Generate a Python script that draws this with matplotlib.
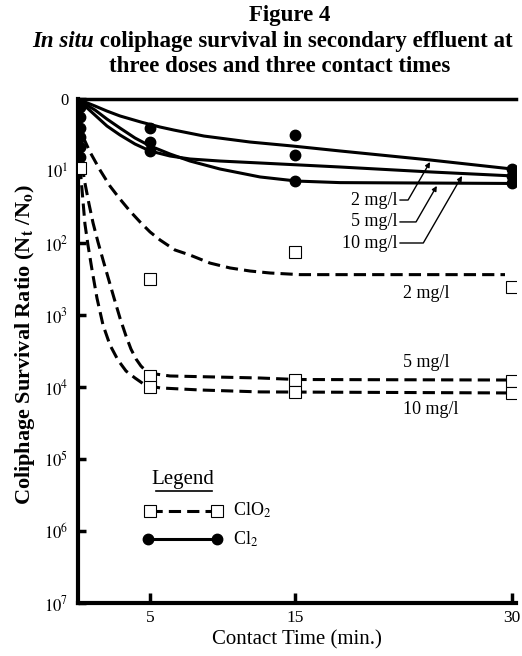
import matplotlib.pyplot as plt

plt.rcParams['font.family'] = ['Liberation Serif', 'DejaVu Serif']
plt.rcParams['mathtext.fontset'] = 'stix'

times = [5, 15, 30]
cl2_2 = [2.53, 3.16, 9.4]
cl2_5 = [3.96, 13.8, 14.7]
cl2_10 = [5.27, 6.0, 11.7]
clo2_2 = [316, 133, 407]
clo2_5 = [7050, 7990, 8250]
clo2_10 = [10000, 11700, 12100]

# points stacked at the start of contact
t_start = [0.15, 0.15, 0.15, 0.15, 0.15, 0.15, 0.15]
cl2_start = [1.3, 1.8, 2.5, 3.4, 4.6, 6.3, 8.5]
clo2_start_t = [0.12]
clo2_start = [9.0]

# fitted curves
cl2_2_fit_t = [0, 0.48, 1.17, 2.0, 2.9, 4.35, 5.67, 6.63, 8.71, 11.89, 14.79, 18.11, 24.33, 30]
cl2_2_fit = [1, 1.10, 1.25, 1.47, 1.72, 2.09, 2.45, 2.70, 3.27, 3.96, 4.49, 5.27, 7.03, 9.38]
cl2_5_fit_t = [0, 0.48, 1.17, 2.0, 2.9, 3.94, 4.98, 6.36, 7.74, 9.81, 12.58, 15.13, 18.11, 24.33, 30]
cl2_5_fit = [1, 1.17, 1.42, 1.90, 2.53, 3.48, 4.49, 5.81, 7.27, 9.38, 12.1, 13.8, 14.5, 14.7, 14.9]
cl2_10_fit_t = [0, 0.48, 1.17, 2.0, 2.9, 3.94, 4.98, 6.36, 7.74, 9.81, 12.58, 18.11, 24.33, 30]
cl2_10_fit = [1, 1.25, 1.67, 2.37, 3.16, 4.22, 5.27, 6.19, 6.81, 7.27, 7.74, 8.80, 10.3, 11.7]

clo2_2_fit_t = [0.35, 0.83, 1.52, 2.21, 2.90, 3.59, 4.29, 4.98, 5.67, 6.70, 7.74,
                9.12, 10.50, 11.89, 13.27, 15.34, 29.51]
clo2_2_fit = [3.37, 5.45, 9.69, 16.2, 24.5, 36.0, 51.1, 70.3, 90.8, 125, 147,
              190, 222, 245, 261, 275, 275]
clo2_5_fit_t = [0.28, 0.48, 0.76, 1.04, 1.38, 1.73, 2.07, 2.49, 2.90, 3.32, 3.66,
                4.01, 4.35, 4.70, 5.32, 6.36, 12.58, 15.13, 30]
clo2_5_fit = [8.25, 14.7, 28.7, 52.7, 96.8, 172, 297, 581, 1100, 1960, 2970,
              4080, 5110, 6000, 6590, 7030, 7500, 7870, 8000]
clo2_10_fit_t = [0.14, 0.28, 0.48, 0.69, 0.97, 1.31, 1.73, 2.21, 2.76, 3.32, 3.94,
                 4.63, 5.67, 8.43, 12.58, 30]
clo2_10_fit = [8.8, 18.4, 54.5, 107, 237, 581, 1380, 2610, 4220, 6000, 7500,
               9380, 10300, 11000, 11700, 12100]

yticks = [1, 1e1, 1e2, 1e3, 1e4, 1e5, 1e6, 1e7]
ytick_labels = ['0', '$10^1$', '$10^2$', '$10^3$', '$10^4$', '$10^5$', '$10^6$', '$10^7$']

fig = plt.figure(figsize=(5.22, 6.56), dpi=100)
ax = fig.add_axes([78 / 522, 1 - 603 / 656, 437.7 / 522, 504 / 656])

solid = dict(color='black', lw=2.2, solid_capstyle='round', solid_joinstyle='round')
dashed = dict(color='black', lw=2.2, linestyle=(0, (4, 2)))
circ = dict(marker='o', ls='none', ms=7.5, color='black', zorder=5)
sq = dict(marker='s', ls='none', ms=8, mfc='white', mec='black', mew=0.8, zorder=5)

for t, v in [(cl2_2_fit_t, cl2_2_fit), (cl2_5_fit_t, cl2_5_fit), (cl2_10_fit_t, cl2_10_fit)]:
    ax.plot(t, v, **solid)
for t, v in [(clo2_2_fit_t, clo2_2_fit), (clo2_5_fit_t, clo2_5_fit), (clo2_10_fit_t, clo2_10_fit)]:
    ax.plot(t, v, **dashed)

for v in [cl2_2, cl2_5, cl2_10]:
    ax.plot(times, v, **circ)
for v in [clo2_2, clo2_5, clo2_10]:
    ax.plot(times, v, **sq)
ax.plot(t_start, cl2_start, **circ)
ax.plot(clo2_start_t, clo2_start, **sq)

ax.set_yscale('log')
ax.set_ylim(1e7, 1)
ax.set_xlim(0, 30.25)
ax.set_yticks(yticks)
ax.set_yticklabels(ytick_labels)
ax.yaxis.set_minor_locator(plt.NullLocator())
ax.set_xticks(times)
ax.set_xticklabels([str(t) for t in times])
ax.tick_params(axis='y', direction='in', length=6, width=2.5, pad=7, labelsize=12)
ax.tick_params(axis='x', direction='in', length=7, width=2.5, pad=5, labelsize=12.5)

ax.spines['right'].set_visible(False)
ax.spines['left'].set_linewidth(3)
ax.spines['bottom'].set_linewidth(3)
ax.spines['top'].set_linewidth(2.5)

# dose labels, Cl2 with arrows
arrow = dict(arrowstyle='-|>', color='black', lw=1, mutation_scale=7,
             relpos=(1, 0.5), shrinkA=0, shrinkB=0,
             connectionstyle='angle,angleA=0,angleB=60,rad=0')
ax.annotate('2 mg/l', xy=(24.33, 7.5), xytext=(22.05, 25.3), ha='right', va='center',
            fontsize=13, arrowprops=arrow)
ax.annotate('5 mg/l', xy=(24.8, 16.1), xytext=(22.05, 51), ha='right', va='center',
            fontsize=13, arrowprops=arrow)
ax.annotate('10 mg/l', xy=(26.54, 11.7), xytext=(22.05, 100), ha='right', va='center',
            fontsize=13, arrowprops=arrow)

# dose labels, ClO2
ax.text(24.05, 510, '2 mg/l', ha='center', va='center', fontsize=13)
ax.text(24.05, 4640, '5 mg/l', ha='center', va='center', fontsize=13)
ax.text(24.4, 20300, '10 mg/l', ha='center', va='center', fontsize=13)

# legend
ax.text(0.24, 0.246, 'Legend', transform=ax.transAxes, ha='center', va='center', fontsize=15)
ax.plot([0.178, 0.306], [0.222, 0.222], transform=ax.transAxes, color='black', lw=1.2)
ax.plot([0.1645, 0.3176], [0.183, 0.183], transform=ax.transAxes,
        marker='s', ms=8, mfc='white', mec='black', mew=0.8, **dashed)
ax.plot([0.16, 0.3176], [0.127, 0.127], transform=ax.transAxes, marker='o', ms=7.5, **solid)
ax.text(0.354, 0.183, 'ClO$_2$', transform=ax.transAxes, ha='left', va='center', fontsize=13)
ax.text(0.354, 0.127, 'Cl$_2$', transform=ax.transAxes, ha='left', va='center', fontsize=13)

ax.set_xlabel('Contact Time (min.)', fontsize=15, labelpad=3)
fig.text(25 / 522, 1 - 345 / 656, r'Coliphage Survival Ratio (N$_\mathbf{t}$ /N$_\mathbf{o}$)',
         rotation=90, ha='center', va='center', fontsize=16, fontweight='bold')

# title
fig.text(290 / 522, 1 - 21 / 656, 'Figure 4', ha='center', va='baseline',
         fontsize=16.5, fontweight='bold')
t1 = fig.text(32 / 522, 1 - 47 / 656, 'In situ', ha='left', va='baseline',
              fontsize=16.5, fontweight='bold', style='italic')
ax.annotate(' coliphage survival in secondary effluent at', xy=(1, 0), xycoords=t1,
            ha='left', va='bottom', fontsize=16.5, fontweight='bold', annotation_clip=False)
fig.text(280 / 522, 1 - 72 / 656, 'three doses and three contact times', ha='center',
         va='baseline', fontsize=16.5, fontweight='bold')

fig.savefig('out.png', dpi=100)
